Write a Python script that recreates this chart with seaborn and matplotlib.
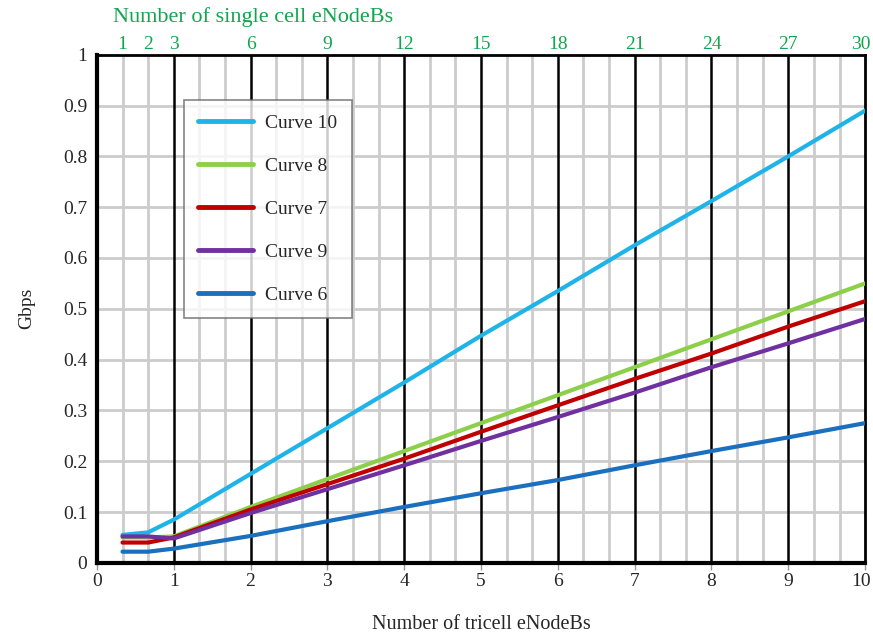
import numpy as np
import pandas as pd
import matplotlib
matplotlib.use('Agg')
import matplotlib.pyplot as plt
import matplotlib.transforms as mtransforms
import seaborn as sns

# tricell eNodeBs (x) and throughput in Gbps per curve
x_vals = [1/3, 2/3, 1, 2, 3, 4, 5, 6, 7, 8, 9, 10]
curve10 = [0.055, 0.060, 0.085, 0.175, 0.265, 0.355, 0.447, 0.535, 0.625, 0.712, 0.800, 0.890]
curve8 = [0.050, 0.050, 0.052, 0.110, 0.165, 0.220, 0.275, 0.330, 0.385, 0.440, 0.495, 0.550]
curve7 = [0.040, 0.040, 0.050, 0.105, 0.155, 0.205, 0.258, 0.310, 0.362, 0.412, 0.465, 0.515]
curve9 = [0.052, 0.052, 0.048, 0.098, 0.145, 0.192, 0.240, 0.287, 0.335, 0.385, 0.432, 0.480]
curve6 = [0.022, 0.022, 0.028, 0.053, 0.082, 0.110, 0.137, 0.163, 0.192, 0.220, 0.247, 0.275]

names = ['Curve 10', 'Curve 8', 'Curve 7', 'Curve 9', 'Curve 6']
colors = ['#1fb4e8', '#8cd04a', '#c00000', '#7030a0', '#1a6fbf']
top_ticks = [1, 2, 3, 6, 9, 12, 15, 18, 21, 24, 27, 30]

rows = []
for name, vals in zip(names, [curve10, curve8, curve7, curve9, curve6]):
    for xv, yv in zip(x_vals, vals):
        rows.append({'x': xv, 'y': yv, 'curve': name})
df = pd.DataFrame(rows)

sns.set_style('white')
plt.rcParams['font.family'] = ['Liberation Serif', 'DejaVu Serif']

fig = plt.figure(figsize=(8.73, 6.36), dpi=100)
ax = fig.add_axes([0.111, 0.115, 0.880, 0.799])

# grid
for v in np.arange(1, 30) / 3:
    if abs(v - round(v)) > 1e-6:
        ax.axvline(v, color='#cccccc', lw=2, zorder=1)
for v in range(1, 10):
    ax.axvline(v, color='black', lw=1.8, zorder=1.5)
for h in np.arange(0.1, 1.0, 0.1):
    ax.axhline(h, color='#cccccc', lw=2, zorder=1)

sns.lineplot(data=df, x='x', y='y', hue='curve', hue_order=names,
             palette=colors, linewidth=3, ax=ax, zorder=3, legend=False)

ax.set_xlim(0, 10)
ax.set_ylim(0, 1)
ax.set_xticks(range(0, 11))
ax.set_yticks(np.round(np.arange(0, 1.01, 0.1), 1))
ax.set_yticklabels(['0'] + [f'{v:.1f}' for v in np.arange(0.1, 1.0, 0.1)] + ['1'])
ax.tick_params(axis='both', labelsize=14, length=5, width=1, direction='out',
               color='#999999', pad=2)
ax.set_xlabel('Number of tricell eNodeBs', fontsize=14.5, labelpad=18)
ax.set_ylabel('Gbps', fontsize=14, labelpad=20)

for side in ['left', 'bottom']:
    ax.spines[side].set_linewidth(3)
    ax.spines[side].set_color('black')
for side in ['top', 'right']:
    ax.spines[side].set_linewidth(2)
    ax.spines[side].set_color('black')

# top axis with single-cell eNodeBs
green = '#12a550'
ax2 = ax.twiny()
ax2.set_xlim(0, 30)
ax2.set_xticks(top_ticks)
ax2.tick_params(axis='x', labelsize=14, labelcolor=green, length=0, pad=1)
ax2.set_xlabel('Number of single cell eNodeBs', fontsize=16, color=green)
ax2.xaxis.set_label_coords(0.203, 1.064)
for s in ax2.spines.values():
    s.set_visible(False)

# keep the last tick labels inside the picture
shift = mtransforms.ScaledTranslation(-4 / 100, 0, fig.dpi_scale_trans)
for lab in [ax.get_xticklabels()[-1], ax2.get_xticklabels()[-1]]:
    lab.set_transform(lab.get_transform() + shift)

# legend
handles = [plt.Line2D([], [], color=c, lw=3.5) for c in colors]
leg = ax.legend(handles, names, loc='upper left', bbox_to_anchor=(0.113, 0.911),
                borderaxespad=0, fontsize=14, frameon=True, fancybox=False,
                handlelength=2.8, labelspacing=1.3, borderpad=0.75,
                handletextpad=0.65)
leg.get_frame().set_edgecolor('#666666')
leg.get_frame().set_linewidth(1.2)
leg.set_zorder(5)

fig.savefig('out.png', dpi=100)
